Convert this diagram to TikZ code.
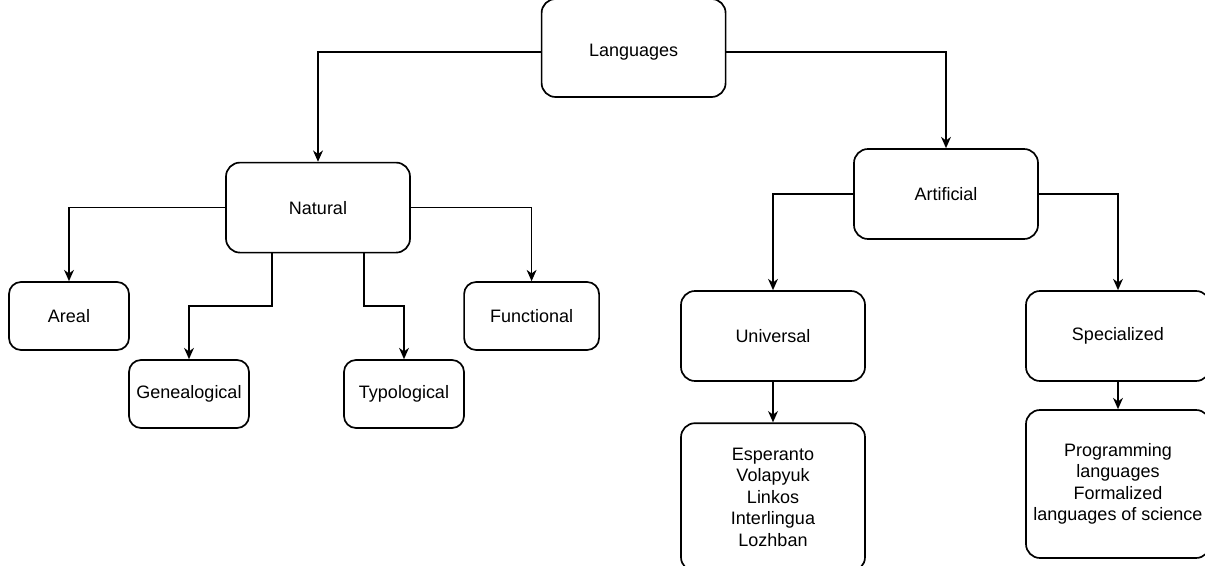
\documentclass[tikz,border=0pt]{standalone}
\usepackage{fontspec}
\setmainfont{Liberation Sans}
\usetikzlibrary{arrows.meta,positioning}
\begin{document}
\begin{tikzpicture}[node distance=2cm]
	\tikzstyle{block} = [rectangle, rounded corners=0.35cm, minimum width=4.6cm, 
	minimum height=2.25cm, text centered, align=center, draw=black, line width=1.2pt, fill=white, font=\fontsize{12.8}{15.2}\selectfont]
	\tikzstyle{leaf} = [block, rounded corners=0.3cm, minimum width=3cm, minimum height=1.7cm]
	\tikzstyle{longbox} = [block, minimum height=3.7cm]
	\tikzstyle{arrow} = [line width=1.2pt,-{Stealth[length=8pt,width=7pt,inset=2.5pt]}]
	\useasboundingbox (0,0) rectangle (30.125,-14.15);
	\node (languages) [block, minimum height=2.45cm, text height=0.52cm] at (15.84,-1.2) {Languages};
	\node (natural) [block, below of=languages, node distance=3.99cm, xshift=-7.89cm] {Natural};
	\node (artificial) [block, below of=languages, node distance=3.65cm, xshift=7.81cm] {Artificial};
	\node (areal) [leaf, below of=natural, node distance=2.71cm, xshift=-6.225cm] {Areal};
	\node (genealogical) [leaf, below of=natural, node distance=4.66cm, xshift=-3.225cm] {Genealogical};
	\node (typological) [leaf, below of=natural, node distance=4.66cm, xshift=2.15cm] {Typological};
	\node (functional) [leaf, minimum width=3.375cm, below of=natural, node distance=2.71cm, xshift=5.34cm] {Functional};
	\node (universal) [block, below of=artificial, node distance=3.55cm, xshift=-4.325cm] {Universal};
	\node (specialized) [block, below of=artificial, node distance=3.55cm, xshift=4.3cm] {Specialized};
	\node (esperanto) [longbox, below of=universal, node distance=4.03cm] {Esperanto\\Volapyuk\\Linkos\\Interlingua\\Lozhban};
	\node (programming) [longbox, below of=specialized, node distance=3.7cm] {Programming\\languages\\Formalized\\languages of science};
	\draw [arrow] ([yshift=-0.1cm]languages.west) -| (natural);
	\draw [arrow] ([yshift=-0.1cm]languages.east) -| (artificial);
	\draw [arrow] (natural) -| (areal);
	\draw [arrow] (natural) -| (functional);
	\draw [arrow] ([xshift=-1.15cm]natural.south) -- ++(0,-1.31) -| (genealogical);
	\draw [arrow] ([xshift=1.15cm]natural.south) -- ++(0,-1.31) -| (typological);
	\draw [arrow] (artificial) -| (universal);
	\draw [arrow] (artificial) -| (specialized);
	\draw [arrow] (universal) -- (esperanto);
	\draw [arrow] (specialized) -- (programming);
\end{tikzpicture}
\end{document}
